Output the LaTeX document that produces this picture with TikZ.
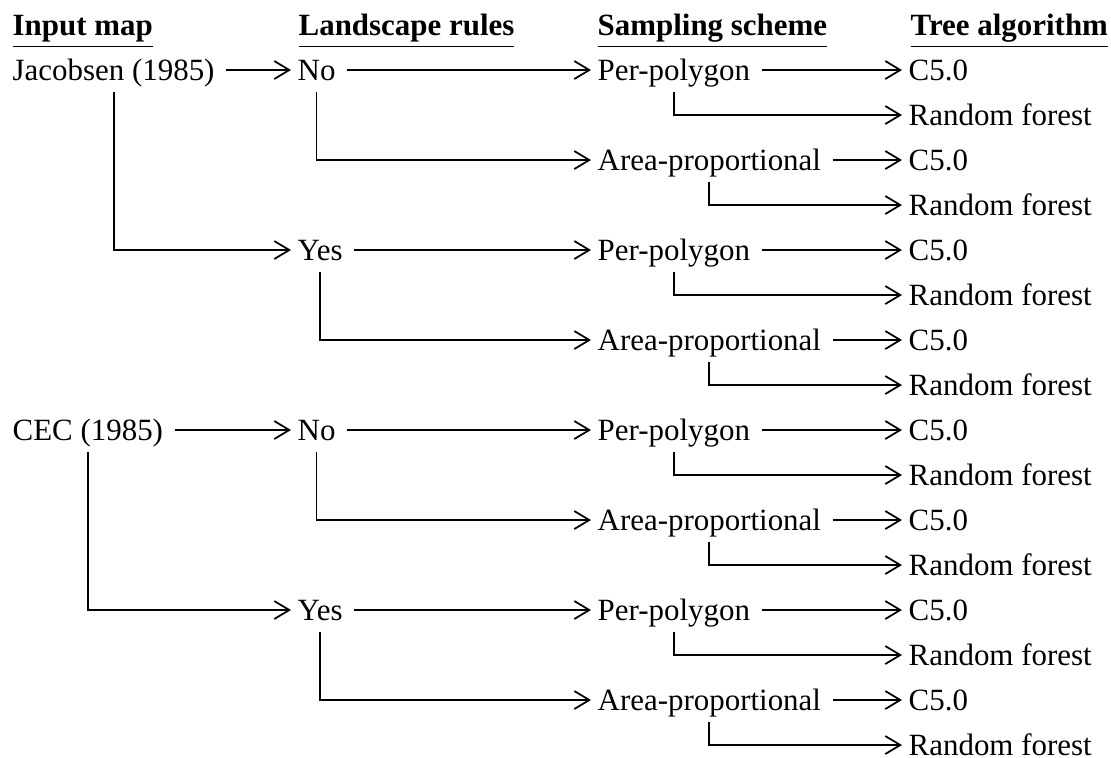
\documentclass[tikz,border=0pt]{standalone}
\usepackage{fontspec}
\setmainfont{Liberation Serif}
\usetikzlibrary{arrows.meta}

\begin{document}
\begin{tikzpicture}[x=0.1mm,y=-0.1mm,
  lbl/.style={anchor=west,inner sep=0pt,text height=2mm,text depth=0pt,font=\fontsize{8.8pt}{10pt}\selectfont},
  head/.style={anchor=base west,inner sep=0pt,font=\fontsize{8.8pt}{10pt}\selectfont\bfseries},
  arr/.style={-{Straight Barb[length=1.5mm,width=1.8mm]},line width=0.5pt,shorten <=1.1mm,shorten >=0.6mm}]
\useasboundingbox (0,0) rectangle (1111,757);
% column headers
\node[head] (h1) at (12,35) {\underline{Input map}};
\node[head] (h2) at (298,35) {\underline{Landscape rules}};
\node[head] (h3) at (597,35) {\underline{Sampling scheme}};
\node[head] (h4) at (910,35) {\underline{Tree algorithm}};
% Jacobsen
\node[lbl] (jac) at (12,70) {Jacobsen (1985)};
\node[lbl] (jno) at (297,70) {No};
\node[lbl] (jnop) at (597,70) {Per-polygon};
\node[lbl] (jnopc) at (908,70) {C5.0};
\node[lbl] (jnopr) at (908,115) {Random forest};
\node[lbl] (jnoa) at (597,160) {Area-proportional};
\node[lbl] (jnoac) at (908,160) {C5.0};
\node[lbl] (jnoar) at (908,205) {Random forest};
\node[lbl] (jyes) at (297,250) {Yes};
\node[lbl] (jyesp) at (597,250) {Per-polygon};
\node[lbl] (jyespc) at (908,250) {C5.0};
\node[lbl] (jyespr) at (908,295) {Random forest};
\node[lbl] (jyesa) at (597,340) {Area-proportional};
\node[lbl] (jyesac) at (908,340) {C5.0};
\node[lbl] (jyesar) at (908,385) {Random forest};
% CEC
\node[lbl] (cec) at (12,430) {CEC (1985)};
\node[lbl] (cno) at (297,430) {No};
\node[lbl] (cnop) at (597,430) {Per-polygon};
\node[lbl] (cnopc) at (908,430) {C5.0};
\node[lbl] (cnopr) at (908,475) {Random forest};
\node[lbl] (cnoa) at (597,520) {Area-proportional};
\node[lbl] (cnoac) at (908,520) {C5.0};
\node[lbl] (cnoar) at (908,565) {Random forest};
\node[lbl] (cyes) at (297,610) {Yes};
\node[lbl] (cyesp) at (597,610) {Per-polygon};
\node[lbl] (cyespc) at (908,610) {C5.0};
\node[lbl] (cyespr) at (908,655) {Random forest};
\node[lbl] (cyesa) at (597,700) {Area-proportional};
\node[lbl] (cyesac) at (908,700) {C5.0};
\node[lbl] (cyesar) at (908,745) {Random forest};
% Jacobsen branches
\draw[arr] (jac.east) -- (jno.west);
\draw[arr] (jac.south) |- (jyes.west);
\draw[arr] (jno.east) -- (jnop.west);
\draw[arr] (jno.south) |- (jnoa.west);
\draw[arr] (jnop.east) -- (jnopc.west);
\draw[arr] (jnop.south) |- (jnopr.west);
\draw[arr] (jnoa.east) -- (jnoac.west);
\draw[arr] (jnoa.south) |- (jnoar.west);
\draw[arr] (jyes.east) -- (jyesp.west);
\draw[arr] (jyes.south) |- (jyesa.west);
\draw[arr] (jyesp.east) -- (jyespc.west);
\draw[arr] (jyesp.south) |- (jyespr.west);
\draw[arr] (jyesa.east) -- (jyesac.west);
\draw[arr] (jyesa.south) |- (jyesar.west);
% CEC branches
\draw[arr] (cec.east) -- (cno.west);
\draw[arr] (cec.south) |- (cyes.west);
\draw[arr] (cno.east) -- (cnop.west);
\draw[arr] (cno.south) |- (cnoa.west);
\draw[arr] (cnop.east) -- (cnopc.west);
\draw[arr] (cnop.south) |- (cnopr.west);
\draw[arr] (cnoa.east) -- (cnoac.west);
\draw[arr] (cnoa.south) |- (cnoar.west);
\draw[arr] (cyes.east) -- (cyesp.west);
\draw[arr] (cyes.south) |- (cyesa.west);
\draw[arr] (cyesp.east) -- (cyespc.west);
\draw[arr] (cyesp.south) |- (cyespr.west);
\draw[arr] (cyesa.east) -- (cyesac.west);
\draw[arr] (cyesa.south) |- (cyesar.west);
\end{tikzpicture}
\end{document}
